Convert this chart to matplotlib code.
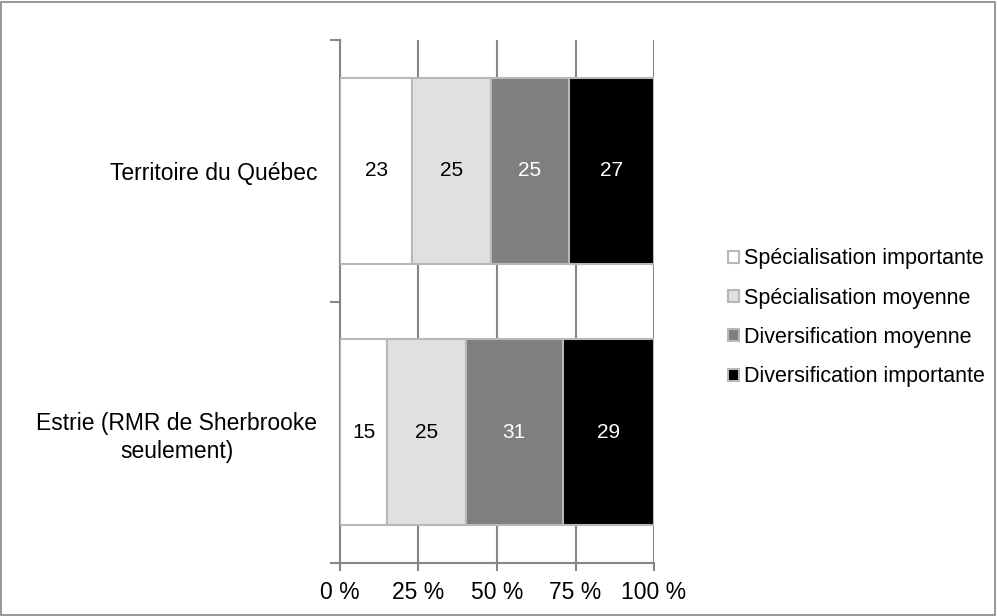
import matplotlib.pyplot as plt
import numpy as np

plt.rcParams['font.family'] = ['Liberation Sans', 'DejaVu Sans']

regions = ['Estrie (RMR de Sherbrooke\nseulement)', 'Territoire du Québec']
series = ['Spécialisation importante', 'Spécialisation moyenne',
          'Diversification moyenne', 'Diversification importante']
values = [
    [15, 23],   # Spécialisation importante
    [25, 25],   # Spécialisation moyenne
    [31, 25],   # Diversification moyenne
    [29, 27],   # Diversification importante
]
colors = ['#ffffff', '#e0e0e0', '#7f7f7f', '#000000']
text_colors = ['black', 'black', 'white', 'white']

fig = plt.figure(figsize=(9.97, 6.16), dpi=100)
fig.patches.append(plt.Rectangle((0.001, 0.002), 0.997, 0.995, transform=fig.transFigure,
                                 fill=False, edgecolor='#868686', linewidth=1.2))
ax = fig.add_axes([0.341, 0.086, 0.315, 0.849])

grid_c = '#868686'
y = np.arange(len(regions))
left = np.zeros(len(regions))
for vals, col, tc, name in zip(values, colors, text_colors, series):
    vals = np.array(vals, dtype=float)
    bars = ax.barh(y, vals, left=left, height=0.71, color=col,
                   edgecolor='#b8b8b8', linewidth=1.5, label=name, zorder=3)
    for b, v in zip(bars, vals):
        ax.text(b.get_x() + b.get_width() / 2, b.get_y() + b.get_height() / 2,
                f'{int(v)}', ha='center', va='center', color=tc, fontsize=15, zorder=4)
    left += vals

ax.set_xlim(0, 100)
ax.set_ylim(-0.5, 1.5)
ax.set_xticks([0, 25, 50, 75, 100])
ax.set_xticklabels(['0 %', '25 %', '50 %', '75 %', '100 %'], fontsize=16.5)
ax.xaxis.grid(True, color=grid_c, linewidth=1.5, zorder=0)
ax.set_yticks(y)
ax.set_yticklabels(regions, fontsize=16.5, multialignment='center', linespacing=1.3)
ax.tick_params(axis='y', length=0, pad=16.5)
ax.set_yticks([-0.5, 0.5, 1.5], minor=True)
ax.tick_params(axis='y', which='minor', length=7, color=grid_c, width=1.5)
ax.tick_params(axis='x', length=6, color=grid_c, width=1.5, pad=7)

for s in ['top', 'right']:
    ax.spines[s].set_visible(False)
for s in ['left', 'bottom']:
    ax.spines[s].set_color(grid_c)
    ax.spines[s].set_linewidth(1.5)

handles, labels = ax.get_legend_handles_labels()
leg = fig.legend(handles, labels, loc='center left', bbox_to_anchor=(0.730, 0.484),
                 frameon=False, fontsize=15.5, handlelength=0.5, handleheight=0.5,
                 handletextpad=0.25, labelspacing=0.85, borderpad=0, borderaxespad=0)

fig.savefig('out.png', dpi=100)
